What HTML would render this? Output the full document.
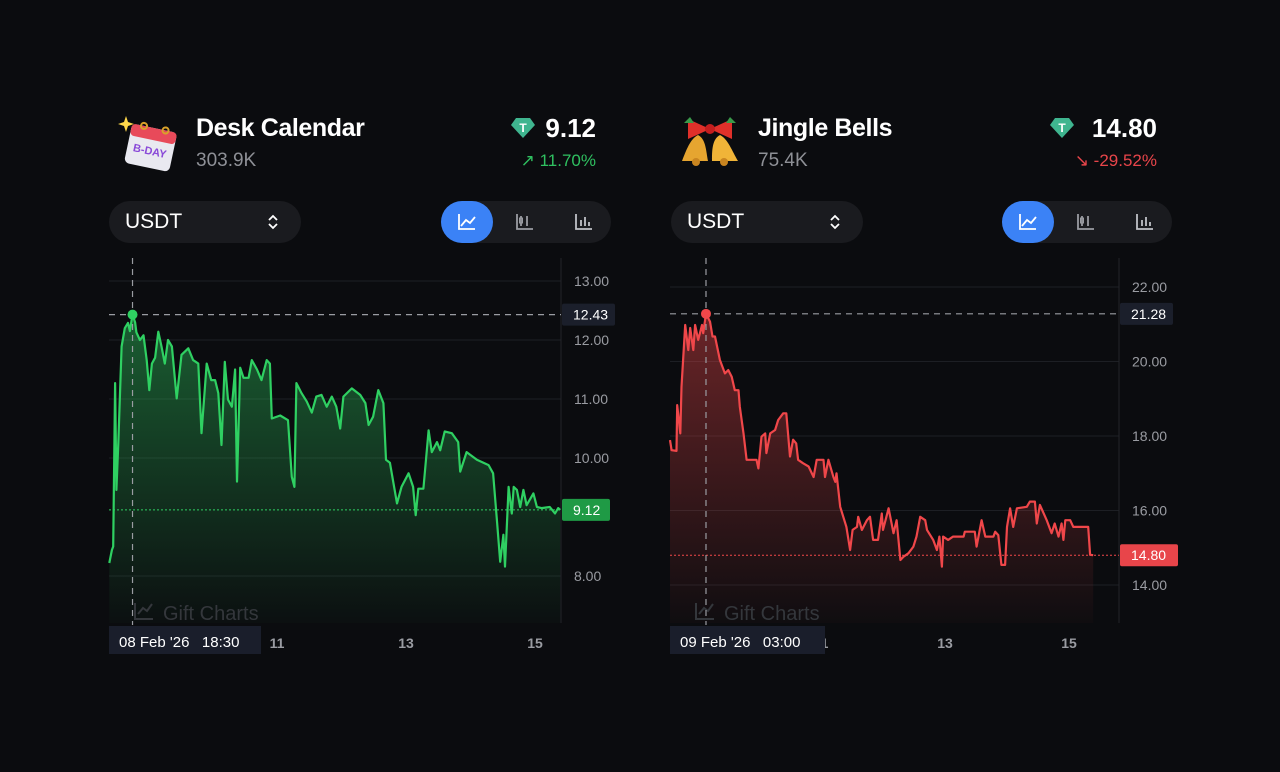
<!DOCTYPE html>
<html><head><meta charset="utf-8">
<style>
body{margin:0;width:1280px;height:772px;background:#0b0c0f;font-family:"Liberation Sans",sans-serif;overflow:hidden;position:relative;color:#fff}
.abs{position:absolute}
.title{font-size:25px;font-weight:bold;color:#fff;letter-spacing:-0.4px}
.sub{font-size:19px;color:#8e9096}
.price{font-size:26px;font-weight:bold;color:#fff;text-align:right}
.chg{font-size:17px;text-align:right}
.pill{background:#1a1b1f;border-radius:21px;height:42px}
.usdt{font-size:21px;color:#fff;line-height:42px;padding-left:16px;box-sizing:border-box}
.seg{background:#1a1b1f;border-radius:21px;height:42px;width:170px}
.act{background:#3b82f6;border-radius:21px;width:52px;height:42px;left:0;top:0}
</style></head><body>

<svg class="abs" style="left:0;top:0" width="1280" height="772" id="charts"></svg>

<!-- Left header -->
<svg class="abs" style="left:116px;top:112px" width="66" height="62">
<path d="M10 4 l2 6 6 2 -6 2 -2 6 -2-6 -6-2 6-2z" fill="#ffd84a"/>
<g transform="rotate(12 36 34)"><rect x="12" y="16" width="46" height="40" rx="5" fill="#e9e9f0"/><rect x="12" y="16" width="46" height="12" rx="4" fill="#e84a5a"/><text x="18" y="43" font-size="11" font-weight="bold" fill="#8a4ad8" font-family="Liberation Sans">B-DAY</text><circle cx="24" cy="16" r="3" fill="none" stroke="#d9a22a" stroke-width="2"/><circle cx="46" cy="16" r="3" fill="none" stroke="#d9a22a" stroke-width="2"/></g>
</svg>
<div class="abs title" style="left:196px;top:114px">Desk Calendar</div>
<div class="abs sub" style="left:196px;top:150px">303.9K</div>
<svg class="abs" style="left:511px;top:117px" width="24" height="22"><path d="M5 1h14l5 7-12 13L0 8z" fill="#3fb58f"/><text x="12" y="15" font-size="12" font-weight="bold" fill="#fff" text-anchor="middle" font-family="Liberation Sans">T</text></svg>
<div class="abs price" style="left:500px;width:96px;top:113px">9.12</div>
<div class="abs chg" style="left:480px;width:116px;top:151px;color:#2fc060">↗ 11.70%</div>
<div class="abs pill usdt" style="left:109px;top:201px;width:192px">USDT<svg class="abs" style="left:158px;top:13px" width="12" height="16"><path d="M2 6l4-4 4 4M2 10l4 4 4-4" stroke="#fff" stroke-width="1.8" fill="none"/></svg></div>
<div class="abs seg" style="left:441px;top:201px">
<div class="abs act"></div>
<svg class="abs" style="left:0;top:0" width="170" height="42"><path d="M18 13v15h16M20 25l5-6 4 3 5-6" stroke="#fff" stroke-width="1.8" fill="none"/><path d="M76 13v15h16M80 15v10M86 15v10" stroke="#9a9ca2" stroke-width="1.8" fill="none"/><rect x="78.5" y="17" width="3" height="5" fill="none" stroke="#9a9ca2"/><path d="M135 13v15h16M140 25v-6M144 25v-9M148 25v-4" stroke="#bfc1c6" stroke-width="1.8" fill="none"/></svg>
</div>

<!-- Right header -->
<svg class="abs" style="left:680px;top:113px" width="62" height="56">
<path d="M18 22c-8 4-12 16-16 26h26c-2-10-2-22-10-26z" fill="#e6a530"/><path d="M40 22c8 4 12 16 18 26H32c0-10 0-22 8-26z" fill="#f0b438"/><circle cx="16" cy="49" r="4" fill="#c98520"/><circle cx="44" cy="49" r="4" fill="#c98520"/><path d="M8 6l22 10-22 10zM52 6L30 16l22 10z" fill="#e0302a"/><circle cx="30" cy="16" r="5" fill="#c41e1e"/><path d="M4 10l6-6 4 6zM56 10l-6-6-4 6z" fill="#3a9a4a"/></svg>
<div class="abs title" style="left:758px;top:114px">Jingle Bells</div>
<div class="abs sub" style="left:758px;top:150px">75.4K</div>
<svg class="abs" style="left:1050px;top:117px" width="24" height="22"><path d="M5 1h14l5 7-12 13L0 8z" fill="#3fb58f"/><text x="12" y="15" font-size="12" font-weight="bold" fill="#fff" text-anchor="middle" font-family="Liberation Sans">T</text></svg>
<div class="abs price" style="left:1040px;width:117px;top:113px">14.80</div>
<div class="abs chg" style="left:1020px;width:137px;top:151px;color:#e8454a">↘ -29.52%</div>
<div class="abs pill usdt" style="left:671px;top:201px;width:192px">USDT<svg class="abs" style="left:158px;top:13px" width="12" height="16"><path d="M2 6l4-4 4 4M2 10l4 4 4-4" stroke="#fff" stroke-width="1.8" fill="none"/></svg></div>
<div class="abs seg" style="left:1002px;top:201px">
<div class="abs act"></div>
<svg class="abs" style="left:0;top:0" width="170" height="42"><path d="M18 13v15h16M20 25l5-6 4 3 5-6" stroke="#fff" stroke-width="1.8" fill="none"/><path d="M76 13v15h16M80 15v10M86 15v10" stroke="#9a9ca2" stroke-width="1.8" fill="none"/><rect x="78.5" y="17" width="3" height="5" fill="none" stroke="#9a9ca2"/><path d="M135 13v15h16M140 25v-6M144 25v-9M148 25v-4" stroke="#bfc1c6" stroke-width="1.8" fill="none"/></svg>
</div>

<script>
// Left series (Desk Calendar): day-of-Feb, price
const greenDays=[8.40,8.44,8.46,8.49,8.51,8.54,8.59,8.64,8.69,8.72,8.76,8.80,8.82,8.875,8.93,8.98,9.02,9.06,9.11,9.16,9.21,9.26,9.31,9.37,9.445,9.52,9.625,9.70,9.78,9.83,9.91,9.98,10.04,10.09,10.14,10.19,10.24,10.30,10.35,10.38,10.43,10.48,10.56,10.61,10.69,10.76,10.84,10.89,10.92,11.05,11.17,11.23,11.27,11.30,11.38,11.46,11.54,11.61,11.69,11.77,11.85,11.92,11.98,12.03,12.16,12.29,12.37,12.42,12.49,12.57,12.65,12.69,12.75,12.86,12.93,13.04,13.11,13.15,13.19,13.27,13.35,13.40,13.48,13.53,13.60,13.71,13.81,13.84,13.94,14.10,14.28,14.35,14.41,14.46,14.51,14.535,14.59,14.64,14.67,14.72,14.77,14.82,14.87,14.975,15.03,15.10,15.23,15.31,15.36,15.39];
const greenPrices=[8.22,8.44,8.5,11.27,9.46,10.25,11.89,12.2,12.29,12.15,12.43,12.3,12.13,12.0,12.08,11.66,11.15,11.6,11.7,12.14,11.89,11.6,12.0,11.89,11.01,11.75,11.86,11.66,11.6,10.42,11.6,11.32,11.32,11.1,10.22,11.63,10.99,10.87,11.5,9.6,11.53,11.36,11.36,11.66,11.5,11.32,11.66,11.6,10.67,10.72,10.64,9.68,9.51,11.27,11.1,10.96,10.77,11.04,11.07,10.87,11.04,10.87,10.5,11.04,11.18,11.07,10.93,10.56,10.7,11.15,10.93,9.97,9.92,9.23,9.51,9.74,9.51,9.03,9.48,9.48,10.47,10.1,10.27,10.13,10.45,10.42,10.27,9.77,10.1,9.97,9.88,9.74,8.95,8.24,8.7,8.16,9.51,9.06,9.51,9.46,9.17,9.46,9.2,9.4,9.17,9.15,9.17,9.06,9.15,9.12];
const greenYTicks=[13,12,11,10,8];
const greenXTicks=[11,13,15];
// Right series (Jingle Bells)
const redDays=[8.565,8.59,8.67,8.68,8.73,8.75,8.81,8.86,8.89,8.94,8.97,9.02,9.08,9.10,9.145,9.21,9.25,9.29,9.37,9.45,9.505,9.56,9.61,9.67,9.69,9.75,9.80,9.96,9.99,10.04,10.10,10.12,10.18,10.26,10.31,10.39,10.44,10.50,10.55,10.60,10.63,10.71,10.80,10.88,10.93,11.04,11.065,11.12,11.20,11.23,11.25,11.31,11.41,11.47,11.51,11.58,11.60,11.66,11.74,11.79,11.84,11.92,11.98,12.00,12.09,12.17,12.22,12.28,12.33,12.41,12.49,12.54,12.60,12.68,12.71,12.81,12.87,12.91,12.95,12.97,13.05,13.13,13.30,13.32,13.48,13.51,13.59,13.65,13.78,13.81,13.86,13.91,13.97,14.00,14.05,14.10,14.16,14.32,14.37,14.45,14.48,14.53,14.64,14.72,14.77,14.83,14.88,14.91,14.94,15.02,15.07,15.31,15.34,15.39];
const redPrices=[17.89,17.62,17.6,18.83,18.07,19.32,20.98,20.31,20.9,20.31,20.98,20.58,20.98,20.76,21.28,21.07,20.67,20.67,20.04,19.68,19.77,19.59,19.23,19.23,18.79,18.07,17.36,17.36,17.13,17.98,18.07,17.54,18.07,18.16,18.43,18.61,18.61,17.45,17.9,17.8,17.36,17.27,17.18,16.9,17.36,17.36,16.9,17.36,16.9,16.77,17.0,16.1,15.56,14.94,15.48,15.56,15.83,15.48,15.74,15.83,15.21,15.21,15.92,15.48,16.06,15.39,15.74,14.67,14.76,14.85,15.03,15.3,15.83,15.74,15.48,15.21,14.94,15.3,14.49,15.3,15.21,15.3,15.3,15.43,15.43,15.03,15.74,15.3,15.3,15.43,15.34,14.54,14.54,15.56,16.06,15.56,16.06,16.1,16.24,16.24,15.65,16.15,15.74,15.39,15.65,15.3,15.65,15.21,15.74,15.74,15.56,15.56,14.81,14.80];
const redYTicks=[22,20,18,16,14];
const redXTicks=[11,13,15];

const NS='http://www.w3.org/2000/svg';
const svg=document.getElementById('charts');
function mk(tag,attrs,parent){const e=document.createElementNS(NS,tag);for(const k in attrs)e.setAttribute(k,attrs[k]);(parent||svg).appendChild(e);return e;}

function drawChart(c){
  const xS=d=>c.x0+(d-c.d0)*c.pxDay;
  const yS=v=>c.yRef+(c.vRef-v)*c.pxVal;
  const g=mk('g',{});
  
  
  c.yTicks.forEach(t=>{
    const gl=mk('line',{x1:c.left,x2:c.axisX,y1:yS(t),y2:yS(t),stroke:'#1d1f24','stroke-width':1},g);
    
    
    const tl=mk('text',{x:c.axisX+13,y:yS(t)+5,fill:'#9a9ca2','font-size':14,'font-family':'Liberation Sans'},g);
    tl.textContent=t.toFixed(2);
    
    
  });
  mk('line',{x1:c.axisX,x2:c.axisX,y1:258,y2:623,stroke:'#23252a'},g);
  const defs=mk('defs',{},g);
  const lg=mk('linearGradient',{id:c.name+'grad',x1:0,y1:0,x2:0,y2:1},defs);
  mk('stop',{offset:'0%','stop-color':c.color,'stop-opacity':0.42},lg);
  mk('stop',{offset:'100%','stop-color':c.color,'stop-opacity':0.02},lg);
  let d='';
  c.days.forEach((dd,i)=>{d+=(i?'L':'M')+xS(dd).toFixed(1)+' '+yS(c.prices[i]).toFixed(1);});
  const last=xS(c.days[c.days.length-1]), first=xS(c.days[0]);
  const area=mk('path',{d:d+'L'+last+' 623L'+first+' 623Z',fill:'url(#'+c.name+'grad)'},g);
  
  
  const wm=mk('text',{x:c.left+54,y:620,fill:'#34373c','font-size':20,'font-family':'Liberation Sans'},g);
  wm.textContent='Gift Charts';
  
  
  mk('path',{d:`M${c.left+26} 603v16h18M${c.left+29} 614l5-6 4 3 5-7`,stroke:'#34373c','stroke-width':2,fill:'none'},g);
  const line=mk('path',{d:d,fill:'none',stroke:c.color,'stroke-width':2.2,'stroke-linejoin':'round'},g);
  
  
  const lastV=c.prices[c.prices.length-1];
  mk('line',{x1:c.left,x2:c.axisX,y1:yS(lastV),y2:yS(lastV),stroke:c.color,'stroke-width':1,'stroke-dasharray':'2 2'},g);
  const hx=xS(c.hoverDay), hy=yS(c.hoverVal);
  mk('line',{x1:hx,x2:hx,y1:258,y2:625,stroke:'#9a9ca2','stroke-width':1.2,'stroke-dasharray':'6 5'},g);
  mk('line',{x1:c.left,x2:c.axisX,y1:hy,y2:hy,stroke:'#9a9ca2','stroke-width':1.2,'stroke-dasharray':'6 5'},g);
  const dot=mk('circle',{cx:hx,cy:hy,r:5,fill:c.color},g);
  
  
  mk('rect',{x:c.axisX+1,y:hy-11,width:53,height:22,fill:'#1b1f2b',rx:2},g);
  const ht=mk('text',{x:c.axisX+12,y:hy+5,fill:'#fff','font-size':14,'font-family':'Liberation Sans'},g);
  ht.textContent=c.hoverVal.toFixed(2);
  
  
  const w=lastV>=10?58:48;
  mk('rect',{x:c.axisX+1,y:yS(lastV)-11,width:w,height:22,fill:c.tag,rx:2},g);
  const ct=mk('text',{x:c.axisX+12,y:yS(lastV)+5,fill:'#fff','font-size':14,'font-family':'Liberation Sans'},g);
  ct.textContent=lastV.toFixed(2);
  
  
  c.xTicks.forEach(t=>{
    const xt=mk('text',{x:xS(t),y:648,fill:'#9a9ca2','font-size':14,'font-weight':'bold','text-anchor':'middle','font-family':'Liberation Sans'},g);
    xt.textContent=t;
    
    
  });
  mk('rect',{x:c.left,y:626,width:c.labelW,height:28,fill:'#1a1e2b'},g);
  const dl=mk('text',{x:c.left+10,y:647,fill:'#fff','font-size':15,'font-family':'Liberation Sans'},g);
  dl.textContent=c.label;
  
  
}
drawChart({name:'desk-calendar',color:'#2fd062',tag:'#1f9a45',days:greenDays,prices:greenPrices,yTicks:greenYTicks,xTicks:greenXTicks,
  left:109,axisX:561,x0:277,d0:11,pxDay:64.5,yRef:340,vRef:12,pxVal:59,hoverDay:8.76,hoverVal:12.43,label:"08 Feb '26\u00a0\u00a0\u00a018:30",labelW:152});
drawChart({name:'jingle-bells',color:'#f0474a',tag:'#e8454a',days:redDays,prices:redPrices,yTicks:redYTicks,xTicks:redXTicks,
  left:670,axisX:1119,x0:945,d0:13,pxDay:62,yRef:287,vRef:22,pxVal:37.25,hoverDay:9.145,hoverVal:21.28,label:"09 Feb '26\u00a0\u00a0\u00a003:00",labelW:155});
</script>
</body></html>
